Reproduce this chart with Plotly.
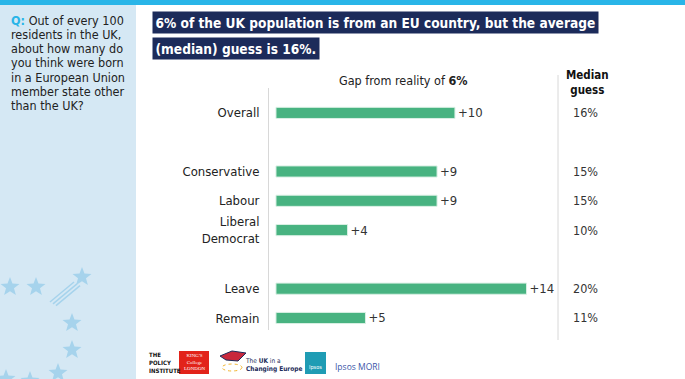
import math
import plotly.graph_objects as go

categories = ["Overall", " ", "Conservative", "Labour", "Liberal<br>Democrat", "  ", "Leave", "Remain"]
gap_values = [10, None, 9, 9, 4, None, 14, 5]
gap_labels = ["+10", "", "+9", "+9", "+4", "", "+14", "+5"]
median_guess = ["16%", "", "15%", "15%", "10%", "", "20%", "11%"]
question_lines = ["<b style='color:#29B5E8'>Q:</b> Out of every 100", "residents in the UK,",
                  "about how many do", "you think were born", "in a European Union",
                  "member state other", "than the UK?"]

W, H = 685, 379
L, R, T, B = 269, 555, 88, 330
FONT = "Liberation Sans Narrow, DejaVu Sans Condensed, Roboto, sans-serif"
GREEN = "#48B381"
NAVY = "#1C2B5A"
STAR = "#A6D3EC"

fig = go.Figure()
fig.add_trace(go.Bar(
    x=gap_values, y=categories, orientation="h",
    marker=dict(color=GREEN, line=dict(color="#D9F0E4", width=1)),
    width=0.38,
    text=gap_labels, textposition="outside", cliponaxis=False, constraintext="none",
    textfont=dict(family=FONT, size=13, color="#333333"),
    hoverinfo="skip",
))

def px(x):
    return (x - L) / (R - L)

def py(y):
    return (B - y) / (B - T)

def star_path(cx, cy, r):
    pts = []
    for k in range(10):
        ang = -math.pi / 2 + k * math.pi / 5
        rr = r if k % 2 == 0 else r * 0.42
        pts.append((px(cx + rr * math.cos(ang)), py(cy + rr * math.sin(ang))))
    return "M " + " L ".join(f"{a:.5f},{b:.5f}" for a, b in pts) + " Z"

shapes = []
shapes.append(dict(type="rect", xref="paper", yref="paper", x0=px(0), x1=px(W), y0=py(5), y1=py(0),
                   fillcolor="#29B5E8", line=dict(width=0), layer="below"))
shapes.append(dict(type="rect", xref="paper", yref="paper", x0=px(0), x1=px(136), y0=py(H), y1=py(5),
                   fillcolor="#D5E8F4", line=dict(width=0), layer="below"))
shapes.append(dict(type="line", xref="paper", yref="paper", x0=px(558), x1=px(558), y0=py(340), y1=py(75),
                   line=dict(color="#D8D8D8", width=1)))
shapes.append(dict(type="rect", xref="paper", yref="paper", x0=px(179), x1=px(209), y0=py(374), y1=py(351),
                   fillcolor="#E2231A", line=dict(width=0)))
shapes.append(dict(type="rect", xref="paper", yref="paper", x0=px(305), x1=px(326), y0=py(374), y1=py(352),
                   fillcolor="#1F9CB4", line=dict(width=0)))
for dx in (0, 3, 6):
    shapes.append(dict(type="line", xref="paper", yref="paper",
                       x0=px(50 + dx), y0=py(302 + dx * 0.6), x1=px(74 + dx), y1=py(282 + dx * 0.6),
                       line=dict(color=STAR, width=1.5)))
for sx, sy in [(10, 287), (36, 287), (82, 277), (72, 323), (72, 350), (58, 373), (6, 379), (30, 381)]:
    shapes.append(dict(type="path", xref="paper", yref="paper", path=star_path(sx, sy, 10),
                       fillcolor=STAR, line=dict(width=0)))
shapes.append(dict(type="path", xref="paper", yref="paper",
                   path=f"M {px(220)},{py(356)} L {px(232)},{py(351)} L {px(246)},{py(353)} L {px(238)},{py(361)} L {px(226)},{py(360)} Z",
                   fillcolor="#C8283C", line=dict(color="#1C2B5A", width=1)))
shapes.append(dict(type="circle", xref="paper", yref="paper", x0=px(222), x1=px(242), y0=py(371), y1=py(364),
                   line=dict(color="#F2B632", width=1, dash="dot")))

annotations = []
annotations.append(dict(xref="paper", yref="paper", x=px(152), y=py(22.5), xanchor="left", yanchor="middle",
                        text="<b>6% of the UK population is from an EU country, but the average</b>",
                        showarrow=False, bgcolor=NAVY, borderpad=2.5,
                        font=dict(family=FONT, size=13.6, color="white")))
annotations.append(dict(xref="paper", yref="paper", x=px(152), y=py(48), xanchor="left", yanchor="middle",
                        text="<b>(median) guess is 16%.</b>",
                        showarrow=False, bgcolor=NAVY, borderpad=2.5,
                        font=dict(family=FONT, size=13.6, color="white")))
for i, line in enumerate(question_lines):
    annotations.append(dict(xref="paper", yref="paper", x=px(9), y=py(20 + i * 14.3), xanchor="left",
                            yanchor="middle", align="left", showarrow=False, text=line,
                            font=dict(family=FONT, size=12.5, color="#222222")))
annotations.append(dict(xref="paper", yref="paper", x=px(403), y=py(80), xanchor="center", yanchor="middle",
                        text="Gap from reality of <b>6%</b>", showarrow=False,
                        font=dict(family=FONT, size=12.5, color="#222222")))
annotations.append(dict(xref="paper", yref="paper", x=px(587), y=py(82), xanchor="center", yanchor="middle",
                        text="<b>Median</b><br><b>guess</b>", showarrow=False,
                        font=dict(family=FONT, size=11.5, color="#111111")))
for cat, mg in zip(categories, median_guess):
    if mg:
        annotations.append(dict(xref="paper", yref="y", x=px(585), y=cat, xanchor="center", yanchor="middle",
                                text=mg, showarrow=False,
                                font=dict(family=FONT, size=12.5, color="#333333")))
annotations.append(dict(xref="paper", yref="paper", x=px(147), y=py(362), xanchor="left", yanchor="middle",
                        align="left", showarrow=False, text="<b>THE<br>POLICY<br>INSTITUTE</b>",
                        font=dict(family=FONT, size=6, color="#111111")))
annotations.append(dict(xref="paper", yref="paper", x=px(194), y=py(362), xanchor="center", yanchor="middle",
                        align="center", showarrow=False, text="KING'S<br>College<br>LONDON",
                        font=dict(family="Liberation Serif, serif", size=5, color="white")))
annotations.append(dict(xref="paper", yref="paper", x=px(243), y=py(365), xanchor="left", yanchor="middle",
                        align="left", showarrow=False, text="The <b>UK</b> in a<br><b>Changing Europe</b>",
                        font=dict(family=FONT, size=6.5, color="#1C2B5A")))
annotations.append(dict(xref="paper", yref="paper", x=px(315.5), y=py(367), xanchor="center", yanchor="middle",
                        showarrow=False, text="Ipsos", font=dict(family=FONT, size=5.5, color="white")))
annotations.append(dict(xref="paper", yref="paper", x=px(333), y=py(366), xanchor="left", yanchor="middle",
                        showarrow=False, text="Ipsos MORI", font=dict(family="Open Sans, sans-serif", size=8.5, color="#3A55A8")))

fig.update_layout(
    width=W, height=H,
    margin=dict(l=L, r=W - R, t=T, b=H - B),
    paper_bgcolor="white", plot_bgcolor="white",
    showlegend=False,
    shapes=shapes, annotations=annotations,
    xaxis=dict(range=[-0.39, 15.59], showgrid=False, zeroline=False, showticklabels=False,
               showline=False, fixedrange=True),
    yaxis=dict(categoryorder="array", categoryarray=categories, range=[7.41, -0.85],
               showgrid=False, zeroline=False, showline=True, linecolor="#D8D8D8", linewidth=1,
               ticks="", ticklabelstandoff=6, fixedrange=True,
               tickfont=dict(family=FONT, size=13, color="#222222")),
)

fig.write_html("out.html", config={"displayModeBar": False},
               post_script="document.body.style.margin='0';document.body.style.overflow='hidden';")
